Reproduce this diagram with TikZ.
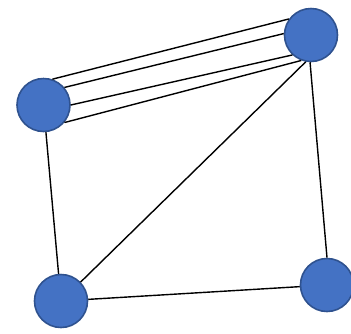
\documentclass[tikz,border=0pt]{standalone}
\definecolor{nodefill}{HTML}{4472C4}
\definecolor{nodeline}{HTML}{2F528F}
\begin{document}
\begin{tikzpicture}[x=1pt,y=-1pt,
  vert/.style={circle,fill=nodefill,draw=nodeline,line width=1.6pt,minimum size=53pt,inner sep=0pt},
  edge/.style={line width=1.4pt,black}]
\useasboundingbox (0,0) rectangle (351,333);
\node[vert] (tr) at (311,35) {};
\node[vert] (l) at (43.5,105) {};
\node[vert] (bl) at (61,301) {};
\node[vert] (br) at (327,285) {};
\draw[edge] (l.71) -- (tr.144);
\draw[edge] (l.40) -- (tr.177);
\draw[edge] (l.0) -- (tr.227);
\draw[edge] (l.-40) -- (tr.249);
\draw[edge] (l) -- (bl);
\draw[edge] (bl) -- (br);
\draw[edge] (br.north) -- (tr.268);
\draw[edge] (bl.44) -- (tr.259);
\end{tikzpicture}
\end{document}
